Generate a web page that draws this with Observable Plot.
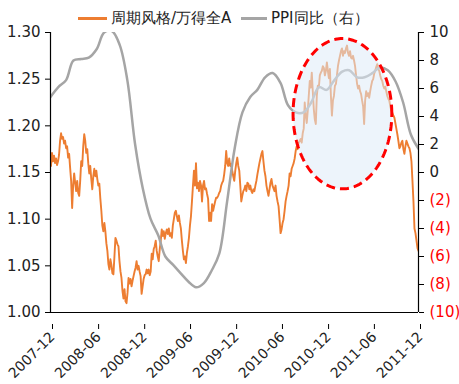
<!DOCTYPE html>
<html><head><meta charset="utf-8">
<script src="https://cdn.jsdelivr.net/npm/d3@7"></script>
<script src="https://cdn.jsdelivr.net/npm/@observablehq/plot@0.6"></script>
<style>
body{margin:0;background:#fff;font-family:"DejaVu Sans",sans-serif;}
#wrap{width:459px;height:384px;position:relative;overflow:hidden;background:#fff}
#legend{position:absolute;left:0;top:0;width:459px;height:36px;font-size:15px;color:#222;z-index:2}
.item{position:absolute;top:6px;height:24px;display:flex;align-items:center;white-space:nowrap}
.sw{display:inline-block;height:3px;margin-right:4px}
</style></head><body>
<div id="wrap"><div id="chart"></div><div id="legend"></div></div>
<script>
// ---- data ----
const seriesNames = ["周期风格/万得全A", "PPI同比（右）"];
const seriesColors = ["#ED7D31", "#A5A5A5"];

// Cyclical style / Wind All A ratio (left axis), evenly spaced observations
const ratioStart = "2007-12-03";
const ratioEnd = "2011-12-01";
const ratioValues = [
1.157,1.171,1.162,1.168,1.160,1.165,1.158,1.162,1.169,1.184,1.192,1.186,1.188,1.181,1.184,1.176,1.178,1.166,1.170,1.155,
1.141,1.112,1.136,1.149,1.139,1.130,1.141,1.128,1.125,1.141,1.162,1.157,1.178,1.191,1.184,1.171,1.175,1.160,1.149,1.157,
1.143,1.132,1.146,1.154,1.146,1.152,1.143,1.136,1.138,1.122,1.109,1.093,1.087,1.096,1.087,1.074,1.066,1.052,1.046,1.057,
1.051,1.042,1.041,1.060,1.080,1.077,1.073,1.071,1.055,1.044,1.037,1.023,1.015,1.025,1.012,1.010,1.021,1.037,1.031,1.036,
1.028,1.034,1.039,1.044,1.048,1.055,1.046,1.050,1.044,1.039,1.020,1.028,1.036,1.040,1.041,1.046,1.042,1.046,1.040,1.044,
1.063,1.057,1.068,1.071,1.077,1.066,1.060,1.055,1.068,1.077,1.089,1.082,1.087,1.079,1.085,1.089,1.084,1.090,1.082,1.085,
1.080,1.093,1.100,1.107,1.109,1.103,1.098,1.104,1.096,1.090,1.077,1.066,1.057,1.060,1.053,1.064,1.071,1.080,1.093,1.103,
1.119,1.136,1.152,1.136,1.160,1.133,1.139,1.130,1.141,1.136,1.119,1.136,1.141,1.132,1.133,1.127,1.122,1.098,1.107,1.098,
1.116,1.109,1.114,1.119,1.123,1.123,1.125,1.128,1.130,1.136,1.139,1.141,1.148,1.157,1.173,1.160,1.157,1.165,1.157,1.159,
1.152,1.146,1.141,1.152,1.160,1.166,1.157,1.152,1.136,1.119,1.125,1.130,1.132,1.136,1.130,1.139,1.138,1.132,1.136,1.130,
1.128,1.132,1.130,1.136,1.141,1.148,1.154,1.160,1.165,1.170,1.173,1.162,1.152,1.146,1.136,1.130,1.125,1.132,1.139,1.143,
1.136,1.133,1.130,1.136,1.125,1.119,1.114,1.100,1.085,1.089,1.096,1.100,1.109,1.119,1.125,1.130,1.136,1.149,1.146,1.154,
1.157,1.160,1.165,1.173,1.178,1.175,1.182,1.184,1.186,1.182,1.192,1.197,1.225,1.211,1.203,1.216,1.232,1.248,1.241,1.257,
1.237,1.218,1.207,1.202,1.232,1.243,1.241,1.254,1.257,1.259,1.264,1.262,1.254,1.259,1.268,1.259,1.251,1.261,1.232,1.211,
1.227,1.232,1.243,1.245,1.254,1.264,1.270,1.275,1.280,1.283,1.275,1.280,1.278,1.283,1.286,1.278,1.275,1.280,1.273,1.272,
1.275,1.270,1.264,1.254,1.245,1.240,1.243,1.237,1.234,1.227,1.221,1.202,1.227,1.237,1.232,1.235,1.230,1.237,1.243,1.248,
1.250,1.256,1.259,1.263,1.266,1.261,1.259,1.254,1.250,1.248,1.243,1.240,1.242,1.237,1.232,1.229,1.227,1.221,1.216,1.214,
1.211,1.209,1.203,1.197,1.191,1.184,1.176,1.178,1.182,1.184,1.175,1.170,1.178,1.184,1.181,1.178,1.176,1.171,1.162,1.141,
1.119,1.090,1.085,1.077,1.069,1.066
];

// China PPI YoY % (right axis), monthly from 2007-12
const ppiStart = "2007-12-01";
const ppiValues = [
5.4,
6.1,6.6,8.0,8.1,8.2,8.8,10.0,10.1,9.1,6.6,2.0,-1.1,
-3.3,-4.5,-6.0,-6.6,-7.2,-7.8,-8.2,-7.9,-7.0,-5.8,-2.1,1.7,
4.3,5.4,5.9,6.8,7.1,6.4,4.8,4.3,4.3,5.0,6.1,5.9,
6.6,7.2,7.3,6.8,6.8,7.1,7.5,7.3,6.5,5.0,2.7,1.7
];

const xTickLabels = ["2007-12","2008-06","2008-12","2009-06","2009-12","2010-06","2010-12","2011-06","2011-12"];
const leftTicks = [1.00,1.05,1.10,1.15,1.20,1.25,1.30];
const rightTicks = [-10,-8,-6,-4,-2,0,2,4,6,8,10];
const leftDomain = [1.00, 1.30];
const rightDomain = [-10, 10];

// highlight ellipse annotation (center date/value and half-extents)
const ellipseCenterDate = "2011-02-02";
const ellipseHalfWidthDays = 196;
const ellipseCenterValue = 1.213;
const ellipseHalfHeight = 0.0805;

// ---- build ----
const parseDay = d3.utcParse("%Y-%m-%d");
const parseMonth = d3.utcParse("%Y-%m");
const toLeft = v => leftDomain[0] + (v - rightDomain[0]) / (rightDomain[1] - rightDomain[0]) * (leftDomain[1] - leftDomain[0]);
const fromLeft = y => Math.round(rightDomain[0] + (y - leftDomain[0]) / (leftDomain[1] - leftDomain[0]) * (rightDomain[1] - rightDomain[0]));

const t0 = parseDay(ratioStart), t1 = parseDay(ratioEnd);
const nR = ratioValues.length;
const ratio = ratioValues.map((v, i) => ({date: new Date(+t0 + (t1 - t0) * i / (nR - 1)), value: v}));
const p0 = parseDay(ppiStart);
const ppi = ppiValues.map((v, i) => ({date: d3.utcMonth.offset(p0, i), y: toLeft(v)}));

const xTicks = xTickLabels.map(parseMonth);
const xDomain = [xTicks[0], xTicks[xTicks.length - 1]];

const ec = parseDay(ellipseCenterDate);
const ellipse = d3.range(0, 361, 2).map(a => {
  const r = a * Math.PI / 180;
  return {date: new Date(+ec + Math.cos(r) * ellipseHalfWidthDays * 864e5),
          y: ellipseCenterValue + Math.sin(r) * ellipseHalfHeight};
});

const rightPos = rightTicks.filter(v => v >= 0).map(toLeft);
const rightNeg = rightTicks.filter(v => v < 0).map(toLeft);

const chart = Plot.plot({
  width: 459,
  height: 384,
  marginTop: 32,
  marginBottom: 72,
  marginLeft: 50,
  marginRight: 41,
  style: {fontSize: "15px", fontFamily: "DejaVu Sans, sans-serif", color: "#222", background: "#fff"},
  x: {type: "utc", domain: xDomain},
  y: {domain: leftDomain},
  marks: [
    Plot.line(ratio, {x: "date", y: "value", stroke: seriesColors[0], strokeWidth: 1.9, clip: true}),
    Plot.line(ppi, {x: "date", y: "y", stroke: seriesColors[1], strokeWidth: 2.5, curve: "catmull-rom", clip: true}),
    Plot.line(ellipse, {x: "date", y: "y", fill: "#DEEBF7", fillOpacity: 0.55, stroke: "none"}),
    Plot.line(ellipse, {x: "date", y: "y", stroke: "#FF0000", strokeWidth: 3, strokeDasharray: "9,5", strokeLinecap: "butt"}),
    Plot.ruleX(xDomain, {stroke: "#000", strokeWidth: 1.2}),
    Plot.ruleY([leftDomain[0]], {stroke: "#000", strokeWidth: 1.2}),
    Plot.axisY({ticks: leftTicks, tickFormat: d3.format(".2f"), tickSize: 5, tickPadding: 5, label: null, stroke: "#000"}),
    Plot.axisY({anchor: "right", ticks: rightPos, tickFormat: d => String(fromLeft(d)), tickSize: 5, tickPadding: 6, label: null, stroke: "#000"}),
    Plot.axisY({anchor: "right", ticks: rightNeg, tickFormat: d => `(${-fromLeft(d)})`, tickSize: 5, tickPadding: 6, label: null, stroke: "#000", fill: "#FF0000"}),
    Plot.axisX({ticks: xTicks, tickFormat: d3.utcFormat("%Y-%m"), tickSize: 5, tickPadding: 5, dx: 2, dy: 12, fontSize: 14, tickRotate: -45, label: null, stroke: "#000"})
  ]
});
document.getElementById("chart").appendChild(chart);

// legend
const legend = document.getElementById("legend");
const legendPos = [{sw: 78, w: 29}, {sw: 241, w: 26}];
seriesNames.forEach((name, i) => {
  const it = document.createElement("div");
  it.className = "item";
  it.style.left = legendPos[i].sw + "px";
  const s = document.createElement("span");
  s.className = "sw";
  s.style.width = legendPos[i].w + "px";
  s.style.background = seriesColors[i];
  const t = document.createElement("span");
  t.textContent = name;
  it.appendChild(s); it.appendChild(t);
  legend.appendChild(it);
});
</script>
</body></html>
